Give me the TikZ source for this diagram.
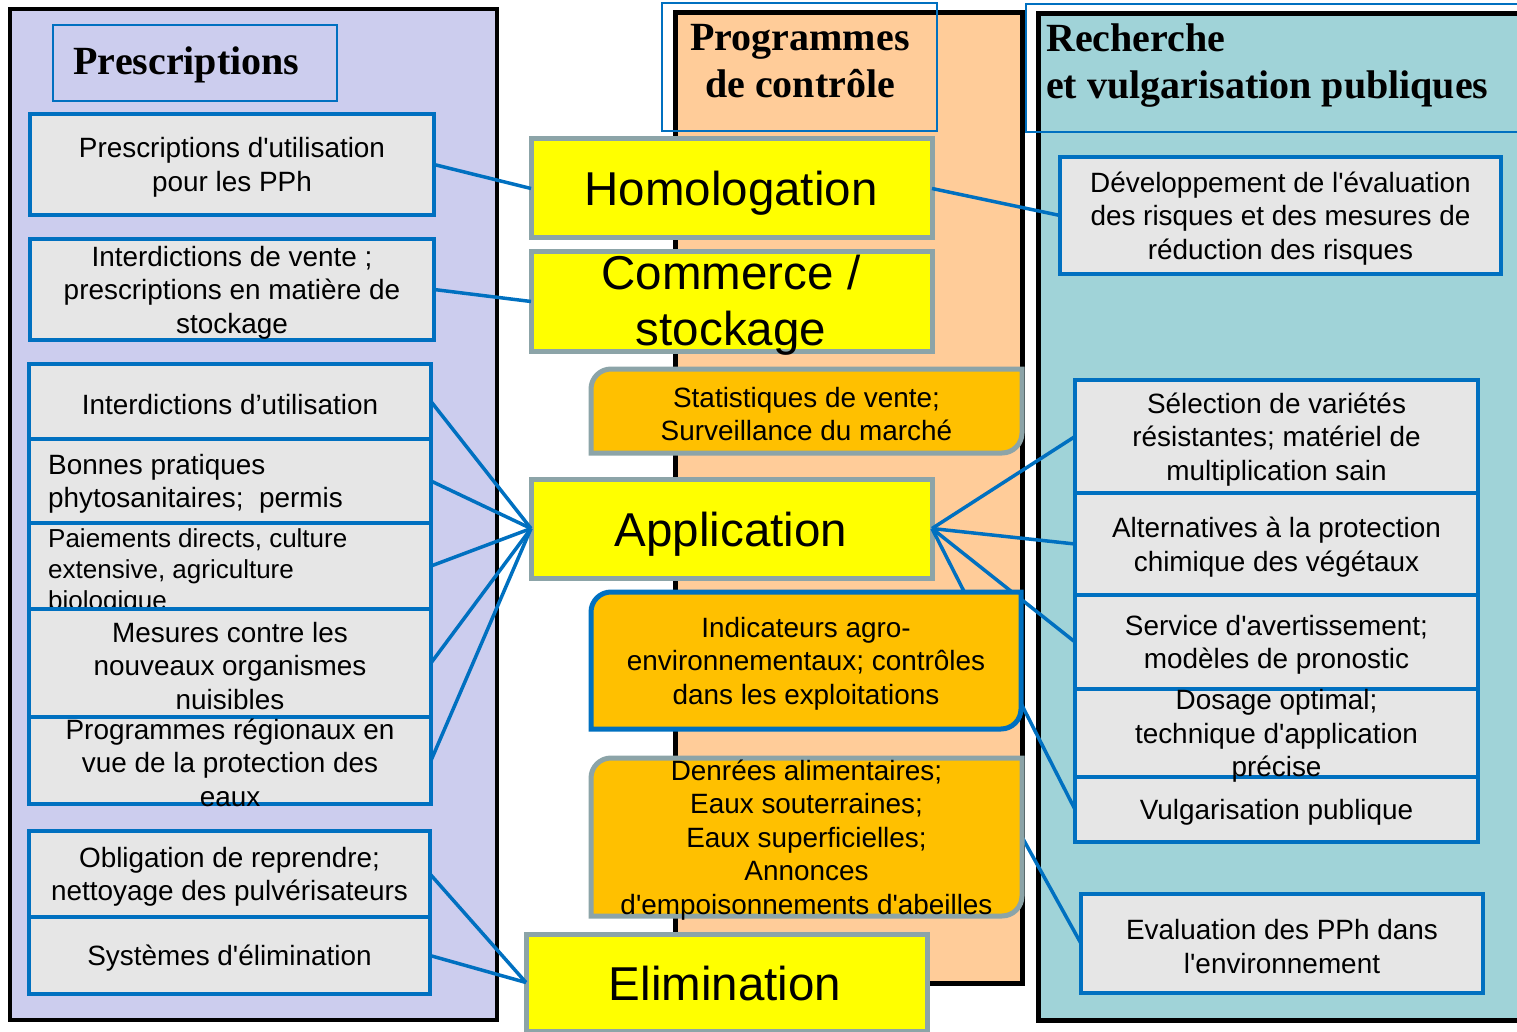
\documentclass[tikz,border=0pt]{standalone}
\usepackage{fontspec}
\newfontfamily\bodyfont{Liberation Sans}
\newfontfamily\headfont{Liberation Serif}
\definecolor{lav}{RGB}{204,205,238}
\definecolor{peach}{RGB}{255,204,153}
\definecolor{tealp}{RGB}{160,211,216}
\definecolor{boxgray}{RGB}{230,230,230}
\definecolor{mblue}{RGB}{0,112,192}
\definecolor{yel}{RGB}{255,255,0}
\definecolor{gborder}{RGB}{140,164,168}
\definecolor{amber}{RGB}{255,192,0}
\newcommand\rbox[6]{\node[#6, minimum width={#4-#2}, minimum height={#5-#3}] (#1) at ({(#2+#4)/2},{(#3+#5)/2}) {};}
\newcommand\tabpath[2]{\path[#2] ([yshift=-20pt]#1.north west) .. controls ([yshift=-9pt]#1.north west) and ([xshift=9pt]#1.north west) .. ([xshift=20pt]#1.north west) -- (#1.north east) -- ([yshift=20pt]#1.south east) .. controls ([yshift=9pt]#1.south east) and ([xshift=-9pt]#1.south east) .. ([xshift=-20pt]#1.south east) -- (#1.south west) -- cycle;}
\tikzset{
  panel/.style={draw=black, line width=4.5pt, inner sep=0pt, outer sep=0pt, rectangle},
  hdr/.style={draw=mblue, line width=1.5pt, inner sep=0pt, outer sep=0pt, rectangle},
  gbox/.style={draw=mblue, fill=boxgray, line width=4pt, inner sep=0pt, outer sep=0pt, rectangle},
  ybox/.style={draw=gborder, fill=yel, line width=5pt, inner sep=0pt, outer sep=0pt, rectangle},
  frame/.style={inner sep=0pt, outer sep=0pt, rectangle},
  txt/.style={font=\bodyfont\fontsize{27.9}{33.5}\selectfont, align=center, inner sep=0pt, yshift=-3pt},
  smalltxt/.style={font=\bodyfont\fontsize{26}{31}\selectfont, align=left, inner sep=0pt, anchor=west, yshift=-3pt},
  big/.style={font=\bodyfont\fontsize{47.5}{55}\selectfont, inner sep=0pt, anchor=base},
  head/.style={font=\headfont\bfseries\fontsize{40}{47}\selectfont, inner sep=0pt},
  conn/.style={draw=mblue, line width=3.5pt},
}
\begin{document}
\begin{tikzpicture}[x=1pt,y=-1pt]
\useasboundingbox (0,0) rectangle (1517,1032);
\clip (0,0) rectangle (1517,1032);
% panels
\rbox{lpanel}{10}{9}{497}{1020}{panel, fill=lav}
\rbox{cpanel}{675}{13}{1022}{983}{panel, fill=peach, line width=5pt}
\rbox{rpanel}{1038}{14}{1530}{1020}{panel, fill=tealp, line width=5pt}
% headers
\rbox{hpbox}{53}{25}{337}{101}{hdr}
\node[head, anchor=base] (hpt) at (186.5,75) {Prescriptions};
\rbox{hcbox}{662}{3}{937}{131}{hdr}
\node[head, anchor=base] (hct1) at (800,51) {Programmes};
\node[head, anchor=base] (hct2) at (800,98) {de contrôle};
\rbox{hrbox}{1026}{4}{1530}{132}{hdr}
\node[head, anchor=base west] (hrt1) at (1046,52) {Recherche};
\node[head, anchor=base west] (hrt2) at (1046,99) {et vulgarisation publiques};
% left boxes
\rbox{p1}{30}{114}{434}{215}{gbox}
\node[txt] (p1t) at (p1) {Prescriptions d'utilisation\\pour les PPh};
\rbox{p2}{30}{239}{434}{340}{gbox}
\node[txt] (p2t) at (p2) {Interdictions de vente ;\\prescriptions en matière de\\stockage};
\rbox{la}{29}{364}{431}{439}{gbox}
\node[txt] (lat) at (la) {Interdictions d’utilisation};
\rbox{lb}{29}{439}{431}{523}{gbox}
\node[txt, align=left, anchor=west] (lbt) at (48,481) {Bonnes pratiques\\phytosanitaires;\ \ permis};
\rbox{lc}{29}{523}{431}{609}{gbox}
\node[smalltxt] (lct) at (48,569) {Paiements directs, culture\\extensive, agriculture\\biologique};
\rbox{ld}{29}{609}{431}{717}{gbox}
\node[txt] (ldt) at (ld) {Mesures contre les\\nouveaux organismes\\nuisibles};
\rbox{le}{29}{717}{431}{804}{gbox}
\node[txt] (let) at ([yshift=1pt]le.center) {Programmes régionaux en\\vue de la protection des\\eaux};
\rbox{lf}{29}{831}{430}{917}{gbox}
\node[txt] (lft) at (lf) {Obligation de reprendre;\\nettoyage des pulvérisateurs};
\rbox{lg}{29}{917}{430}{994}{gbox}
\node[txt] (lgt) at (lg) {Systèmes d'élimination};
% right boxes
\rbox{dev}{1060}{157}{1501}{274}{gbox}
\node[txt] (devt) at (dev) {Développement de l'évaluation\\des risques et des mesures de\\réduction des risques};
\rbox{sel}{1075}{380}{1478}{493}{gbox}
\node[txt] (selt) at (sel) {Sélection de variétés\\résistantes; matériel de\\multiplication sain};
\rbox{alt}{1075}{493}{1478}{595}{gbox}
\node[txt] (altt) at (alt) {Alternatives à la protection\\chimique des végétaux};
\rbox{serv}{1075}{595}{1478}{689}{gbox}
\node[txt] (servt) at (serv) {Service d'avertissement;\\modèles de pronostic};
\rbox{dos}{1075}{689}{1478}{777}{gbox}
\rbox{vulg}{1075}{777}{1478}{842}{gbox}
\node[txt] (dost) at (dos) {Dosage optimal;\\technique d'application\\précise};
\node[txt] (vulgt) at (vulg) {Vulgarisation publique};
\rbox{eval}{1081}{894}{1483}{993}{gbox}
\node[txt] (evalt) at (eval) {Evaluation des PPh dans\\l'environnement};
% yellow boxes
\rbox{hom}{531}{139}{932}{238}{ybox}
\node[big] (homt) at (731,206) {Homologation};
\rbox{com}{531}{252}{932}{351}{ybox}
\node[big] (comt1) at (731,290) {Commerce /};
\node[big] (comt2) at (731,345) {stockage};
\rbox{app}{531}{479}{932}{578}{ybox}
\node[big] (appt) at (731,546) {Application};
\rbox{elim}{526}{934}{927}{1031}{ybox}
\node[big] (elimt) at (725,1000) {Elimination};
% tab frames
\rbox{stat}{591}{369}{1022}{453}{frame}
\rbox{ind}{591}{592}{1021}{729}{frame}
\rbox{den}{591}{758}{1022}{916}{frame}
% connectors
\draw[conn] (p1.east) -- (hom.west);
\draw[conn] (p2.east) -- (com.west);
\draw[conn] (hom.east) -- (dev.west);
\foreach \s in {la,lb,lc,ld,le} \draw[conn] (\s.east) -- (app.west);
\foreach \t in {sel,alt,serv,vulg} \draw[conn] (app.east) -- (\t.west);
\draw[conn] (lf.east) -- (elim.west);
\draw[conn] (lg.east) -- (elim.west);
\draw[conn] (den.east) -- (eval.west);
% tabs
\tabpath{stat}{draw=gborder, fill=amber, line width=5pt}
\node[txt] (statt) at (stat) {Statistiques de vente;\\Surveillance du marché};
\tabpath{ind}{draw=mblue, fill=amber, line width=5pt}
\node[txt] (indt) at (ind) {Indicateurs agro-\\environnementaux; contrôles\\dans les exploitations};
\tabpath{den}{draw=gborder, fill=amber, line width=5pt}
\node[txt] (dent) at (den) {Denrées alimentaires;\\Eaux souterraines;\\Eaux superficielles;\\Annonces\\d'empoisonnements d'abeilles};
\end{tikzpicture}
\end{document}
